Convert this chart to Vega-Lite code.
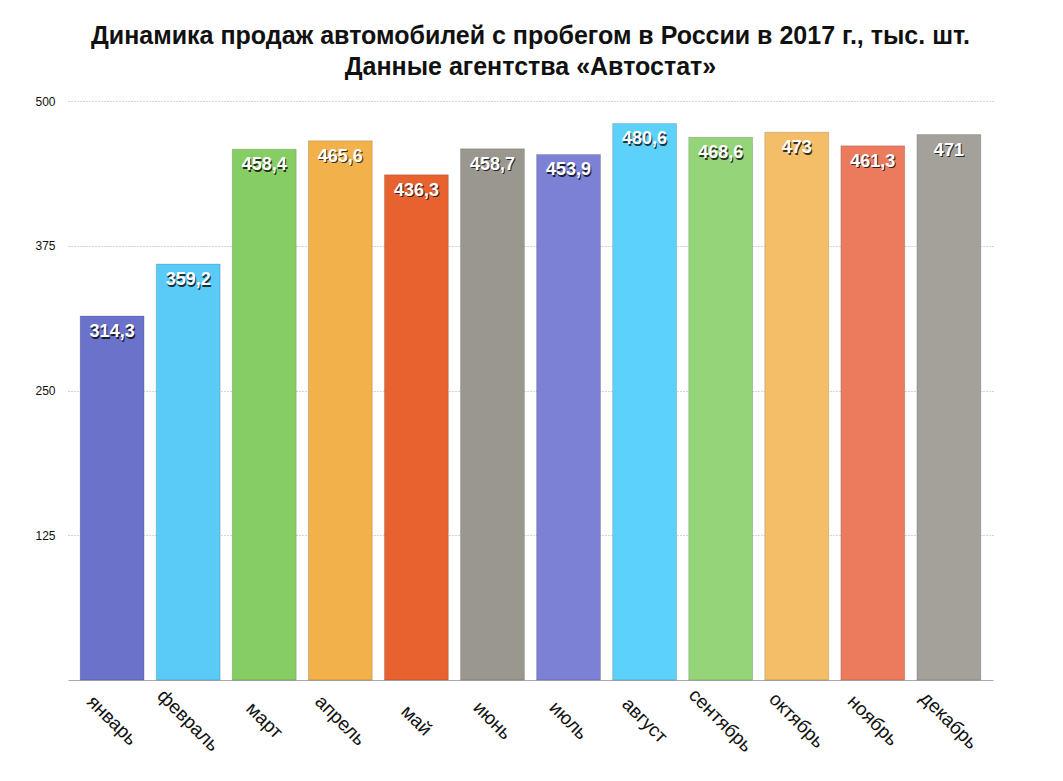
{
  "$schema": "https://vega.github.io/schema/vega-lite/v6.json",
  "width": 925,
  "height": 579,
  "autosize": {"type": "none"},
  "padding": {"left": 68, "top": 101, "right": 70, "bottom": 101},
  "background": "white",
  "title": {
    "text": ["Динамика продаж автомобилей с пробегом в России в 2017 г., тыс. шт.", "Данные агентства «Автостат»"],
    "font": "Liberation Sans",
    "fontSize": 25,
    "fontWeight": "bold",
    "color": "#111111",
    "lineHeight": 31,
    "offset": 15,
    "anchor": "middle"
  },
  "config": {"view": {"stroke": null}},
  "data": {
    "values": [
      {"month": "январь", "value": 314.3, "label": "314,3"},
      {"month": "февраль", "value": 359.2, "label": "359,2"},
      {"month": "март", "value": 458.4, "label": "458,4"},
      {"month": "апрель", "value": 465.6, "label": "465,6"},
      {"month": "май", "value": 436.3, "label": "436,3"},
      {"month": "июнь", "value": 458.7, "label": "458,7"},
      {"month": "июль", "value": 453.9, "label": "453,9"},
      {"month": "август", "value": 480.6, "label": "480,6"},
      {"month": "сентябрь", "value": 468.6, "label": "468,6"},
      {"month": "октябрь", "value": 473, "label": "473"},
      {"month": "ноябрь", "value": 461.3, "label": "461,3"},
      {"month": "декабрь", "value": 471, "label": "471"}
    ]
  },
  "encoding": {
    "x": {
      "field": "month",
      "type": "nominal",
      "sort": null,
      "scale": {"paddingInner": 0.16, "paddingOuter": 0.16},
      "axis": {
        "title": null,
        "labelAngle": 45,
        "labelAlign": "center",
        "labelBaseline": "middle",
        "labelPadding": 40,
        "ticks": false,
        "domainColor": "#aaaaaa",
        "labelFont": "Liberation Sans",
        "labelFontSize": 19,
        "labelColor": "#111111",
        "grid": false
      }
    },
    "y": {
      "field": "value",
      "type": "quantitative",
      "scale": {"domain": [0, 500], "nice": false},
      "axis": {
        "title": null,
        "values": [125, 250, 375, 500],
        "grid": true,
        "gridDash": [1, 2],
        "gridColor": "#aaaaaa",
        "domain": false,
        "ticks": false,
        "labelPadding": 13,
        "labelFont": "Liberation Sans",
        "labelFontSize": 12,
        "labelColor": "#111111"
      }
    }
  },
  "layer": [
    {
      "mark": {"type": "bar", "strokeWidth": 1, "strokeOpacity": 0.15, "stroke": "#000000"},
      "encoding": {
        "color": {
          "field": "month",
          "type": "nominal",
          "scale": {
            "domain": ["январь", "февраль", "март", "апрель", "май", "июнь", "июль", "август", "сентябрь", "октябрь", "ноябрь", "декабрь"],
            "range": ["#6B72C9", "#5ACBF7", "#86CD63", "#F2B14A", "#E8622F", "#9A978F", "#7C81D5", "#5CD1FA", "#95D478", "#F4BD68", "#EC7B5E", "#A4A19B"]
          },
          "legend": null
        }
      }
    },
    {
      "mark": {"type": "text", "dy": 17.5, "dx": 1, "baseline": "middle", "font": "Liberation Sans", "fontSize": 18, "fontWeight": "bold", "color": "#000000", "opacity": 0.75},
      "encoding": {"text": {"field": "label"}}
    },
    {
      "mark": {"type": "text", "dy": 16, "baseline": "middle", "font": "Liberation Sans", "fontSize": 18, "fontWeight": "bold", "color": "#ffffff"},
      "encoding": {"text": {"field": "label"}}
    }
  ]
}
